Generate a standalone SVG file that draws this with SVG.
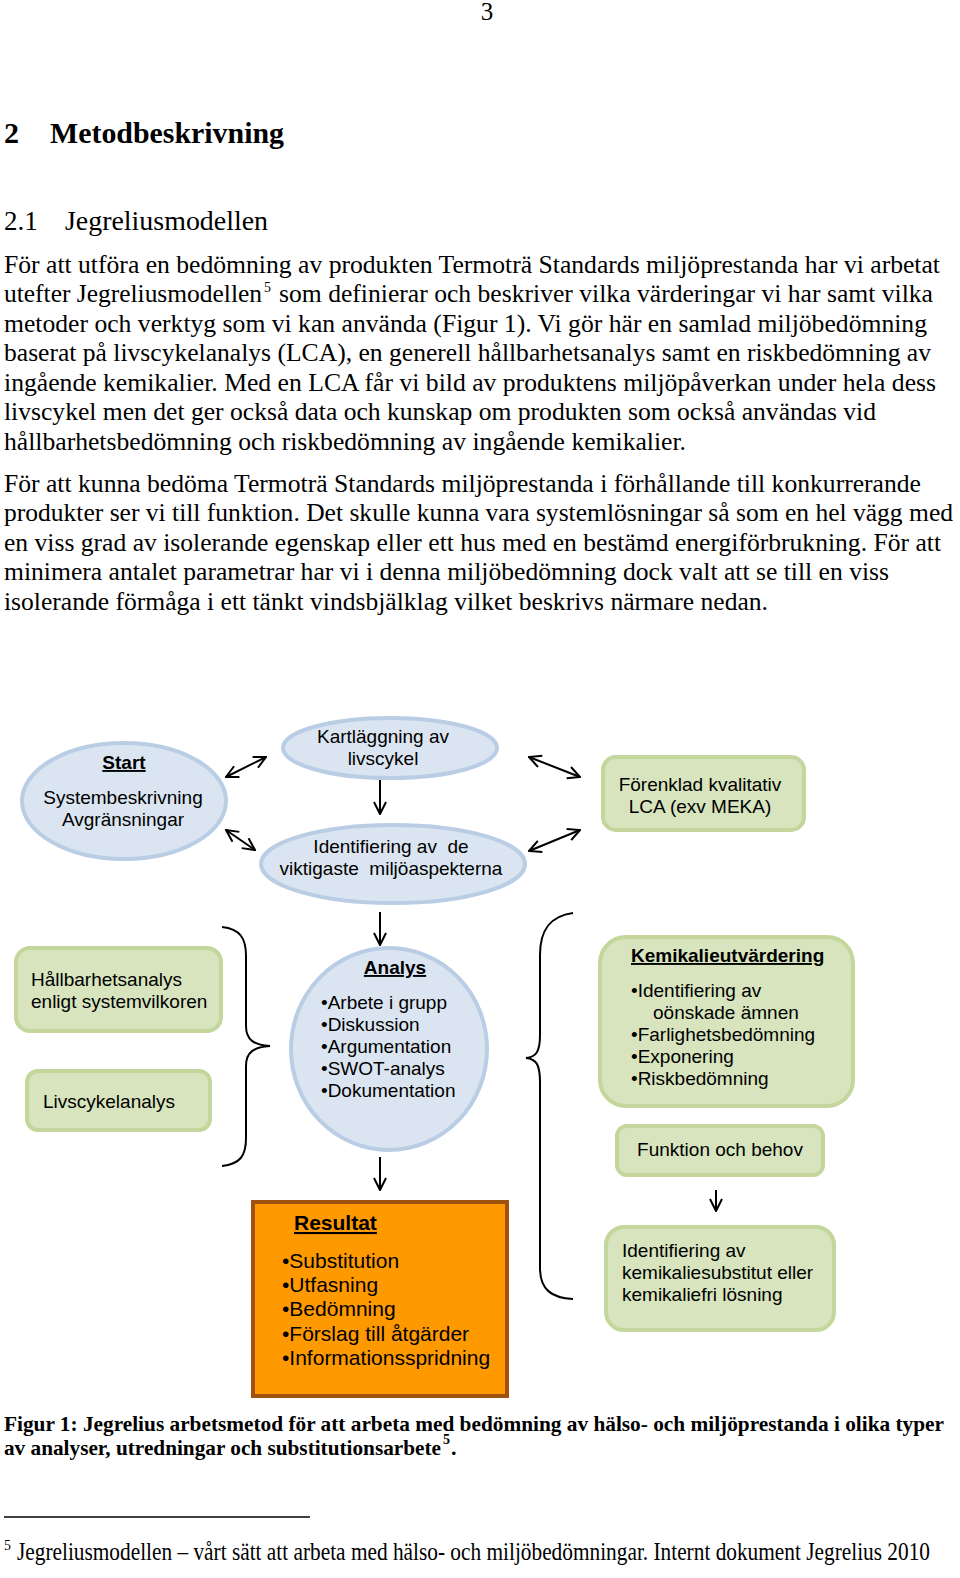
<svg xmlns="http://www.w3.org/2000/svg" width="960" height="1578" viewBox="0 0 960 1578">
<style>
.body{font-family:"Liberation Serif","Times New Roman",serif;font-size:25px;fill:#000}
.sup{font-family:"Liberation Serif","Times New Roman",serif;font-size:14px;fill:#000}
.cap{font-family:"Liberation Serif","Times New Roman",serif;font-size:22px;font-weight:bold;fill:#000}
.d{font-family:"Liberation Sans",Arial,sans-serif;font-size:19px;fill:#000}
.r{font-family:"Liberation Sans",Arial,sans-serif;font-size:21px;fill:#000}
.t{font-weight:bold;text-decoration:underline}
.blue{fill:#dbe5f1;stroke:#b9cde5;stroke-width:4}
.green{fill:#d7e4bd;stroke:#c3d69b;stroke-width:4}
.orange{fill:#ff9900;stroke:#a0520f;stroke-width:4}
.conn{fill:none;stroke:#000;stroke-width:2}
.brace{fill:none;stroke:#000;stroke-width:2}
</style>
<defs>
<marker id="ah" viewBox="0 0 14 14" markerWidth="14" markerHeight="14" refX="13" refY="7" orient="auto-start-reverse" markerUnits="userSpaceOnUse">
<path d="M1,1 L13,7 L1,13" fill="none" stroke="#000" stroke-width="2"/>
</marker>
</defs>
<rect width="960" height="1578" fill="#fff"/>

<g id="page-text">
<text class="body" x="487" y="20" text-anchor="middle" font-size="24">3</text>
<text x="4" y="143" font-family="Liberation Serif,serif" font-size="30" font-weight="bold">2</text>
<text x="50" y="143" font-family="Liberation Serif,serif" font-size="30" font-weight="bold" textLength="234" lengthAdjust="spacingAndGlyphs">Metodbeskrivning</text>
<text x="4" y="230" font-family="Liberation Serif,serif" font-size="27">2.1</text>
<text x="65" y="230" font-family="Liberation Serif,serif" font-size="27" textLength="203" lengthAdjust="spacingAndGlyphs">Jegreliusmodellen</text>

<text class="body" x="4" y="273" textLength="936" lengthAdjust="spacingAndGlyphs">För att utföra en bedömning av produkten Termoträ Standards miljöprestanda har vi arbetat</text>
<text class="body" x="4" y="302" textLength="258" lengthAdjust="spacingAndGlyphs">utefter Jegreliusmodellen</text>
<text class="sup" x="264" y="292">5</text>
<text class="body" x="279" y="302" textLength="654" lengthAdjust="spacingAndGlyphs">som definierar och beskriver vilka värderingar vi har samt vilka</text>
<text class="body" x="4" y="332" textLength="923" lengthAdjust="spacingAndGlyphs">metoder och verktyg som vi kan använda (Figur 1). Vi gör här en samlad miljöbedömning</text>
<text class="body" x="4" y="361" textLength="927" lengthAdjust="spacingAndGlyphs">baserat på livscykelanalys (LCA), en generell hållbarhetsanalys samt en riskbedömning av</text>
<text class="body" x="4" y="391" textLength="932" lengthAdjust="spacingAndGlyphs">ingående kemikalier. Med en LCA får vi bild av produktens miljöpåverkan under hela dess</text>
<text class="body" x="4" y="420" textLength="872" lengthAdjust="spacingAndGlyphs">livscykel men det ger också data och kunskap om produkten som också användas vid</text>
<text class="body" x="4" y="450" textLength="682" lengthAdjust="spacingAndGlyphs">hållbarhetsbedömning och riskbedömning av ingående kemikalier.</text>

<text class="body" x="4" y="492" textLength="917" lengthAdjust="spacingAndGlyphs">För att kunna bedöma Termoträ Standards miljöprestanda i förhållande till konkurrerande</text>
<text class="body" x="4" y="521" textLength="949" lengthAdjust="spacingAndGlyphs">produkter ser vi till funktion. Det skulle kunna vara systemlösningar så som en hel vägg med</text>
<text class="body" x="4" y="551" textLength="937" lengthAdjust="spacingAndGlyphs">en viss grad av isolerande egenskap eller ett hus med en bestämd energiförbrukning. För att</text>
<text class="body" x="4" y="580" textLength="885" lengthAdjust="spacingAndGlyphs">minimera antalet parametrar har vi i denna miljöbedömning dock valt att se till en viss</text>
<text class="body" x="4" y="610" textLength="764" lengthAdjust="spacingAndGlyphs">isolerande förmåga i ett tänkt vindsbjälklag vilket beskrivs närmare nedan.</text>
</g>

<g id="connectors">
<line class="conn" x1="226" y1="777" x2="266" y2="757" marker-start="url(#ah)" marker-end="url(#ah)"/>
<line class="conn" x1="226" y1="830" x2="255" y2="850" marker-start="url(#ah)" marker-end="url(#ah)"/>
<line class="conn" x1="529" y1="757" x2="580" y2="777" marker-start="url(#ah)" marker-end="url(#ah)"/>
<line class="conn" x1="529" y1="851" x2="580" y2="830" marker-start="url(#ah)" marker-end="url(#ah)"/>
<line class="conn" x1="380" y1="780" x2="380" y2="814" marker-end="url(#ah)"/>
<line class="conn" x1="380" y1="912" x2="380" y2="945" marker-end="url(#ah)"/>
<line class="conn" x1="380" y1="1157" x2="380" y2="1190" marker-end="url(#ah)"/>
<line class="conn" x1="716" y1="1190" x2="716" y2="1211" marker-end="url(#ah)"/>
<path class="brace" d="M222,927 C240,929 246,938 246,956 L246,1026 C246,1040 254,1045 270,1046 C254,1047 246,1052 246,1066 L246,1138 C246,1156 240,1164 222,1166"/>
<path class="brace" d="M573,913 C550,916 540,930 540,955 L540,1035 C540,1052 536,1057 526,1058 C536,1059 540,1064 540,1082 L540,1268 C540,1290 552,1298 573,1299"/>
</g>

<g id="start">
<ellipse class="blue" cx="124" cy="801" rx="102" ry="58"/>
<text class="d t" x="124" y="769" text-anchor="middle">Start</text>
<text class="d" x="123" y="804" text-anchor="middle">Systembeskrivning</text>
<text class="d" x="123" y="826" text-anchor="middle">Avgränsningar</text>
</g>
<g id="kartlaggning">
<ellipse class="blue" cx="390" cy="748" rx="107" ry="30"/>
<text class="d" x="383" y="743" text-anchor="middle">Kartläggning av</text>
<text class="d" x="383" y="765" text-anchor="middle">livscykel</text>
</g>
<g id="identifiering-aspekter">
<ellipse class="blue" cx="393" cy="864" rx="132" ry="39"/>
<text class="d" x="391" y="853" text-anchor="middle" xml:space="preserve">Identifiering av  de</text>
<text class="d" x="391" y="875" text-anchor="middle" xml:space="preserve">viktigaste  miljöaspekterna</text>
</g>
<g id="forenklad">
<rect class="green" x="603" y="757" width="201" height="73" rx="13"/>
<text class="d" x="700" y="791" text-anchor="middle">Förenklad kvalitativ</text>
<text class="d" x="700" y="813" text-anchor="middle">LCA (exv MEKA)</text>
</g>
<g id="hallbarhet">
<rect class="green" x="16" y="948" width="205" height="83" rx="14"/>
<text class="d" x="31" y="986">Hållbarhetsanalys</text>
<text class="d" x="31" y="1008">enligt systemvilkoren</text>
</g>
<g id="livscykelanalys">
<rect class="green" x="27" y="1071" width="183" height="59" rx="11"/>
<text class="d" x="43" y="1108">Livscykelanalys</text>
</g>
<g id="analys">
<ellipse class="blue" cx="389" cy="1049" rx="98" ry="101"/>
<text class="d t" x="395" y="974" text-anchor="middle">Analys</text>
<text class="d" x="321" y="1009">•Arbete i grupp</text>
<text class="d" x="321" y="1031">•Diskussion</text>
<text class="d" x="321" y="1053">•Argumentation</text>
<text class="d" x="321" y="1075">•SWOT-analys</text>
<text class="d" x="321" y="1097">•Dokumentation</text>
</g>
<g id="kemikalie">
<rect class="green" x="600" y="937" width="253" height="169" rx="26"/>
<text class="d t" x="631" y="962">Kemikalieutvärdering</text>
<text class="d" x="631" y="997">•Identifiering av</text>
<text class="d" x="653" y="1019">oönskade ämnen</text>
<text class="d" x="631" y="1041">•Farlighetsbedömning</text>
<text class="d" x="631" y="1063">•Exponering</text>
<text class="d" x="631" y="1085">•Riskbedömning</text>
</g>
<g id="funktion">
<rect class="green" x="617" y="1126" width="206" height="49" rx="10"/>
<text class="d" x="720" y="1156" text-anchor="middle">Funktion och behov</text>
</g>
<g id="substitut">
<rect class="green" x="606" y="1227" width="228" height="103" rx="18"/>
<text class="d" x="622" y="1257">Identifiering av</text>
<text class="d" x="622" y="1279">kemikaliesubstitut eller</text>
<text class="d" x="622" y="1301">kemikaliefri lösning</text>
</g>
<g id="resultat">
<rect class="orange" x="253" y="1202" width="254" height="194"/>
<text class="r t" x="294" y="1230">Resultat</text>
<text class="r" x="282" y="1268">•Substitution</text>
<text class="r" x="282" y="1292">•Utfasning</text>
<text class="r" x="282" y="1316">•Bedömning</text>
<text class="r" x="282" y="1341">•Förslag till åtgärder</text>
<text class="r" x="282" y="1365">•Informationsspridning</text>
</g>

<g id="caption">
<text class="cap" x="4" y="1431" textLength="940" lengthAdjust="spacingAndGlyphs">Figur 1: Jegrelius arbetsmetod för att arbeta med bedömning av hälso- och miljöprestanda i olika typer</text>
<text class="cap" x="4" y="1455" textLength="437" lengthAdjust="spacingAndGlyphs">av analyser, utredningar och substitutionsarbete</text>
<text class="sup" x="443" y="1444" font-weight="bold" font-size="12">5</text>
<text class="cap" x="451" y="1455">.</text>
<line x1="4" y1="1517" x2="310" y2="1517" stroke="#000" stroke-width="1.5"/>
<text class="sup" x="4" y="1550" font-size="13">5</text>
<text class="body" x="17" y="1560" font-size="21" textLength="913" lengthAdjust="spacingAndGlyphs">Jegreliusmodellen – vårt sätt att arbeta med hälso- och miljöbedömningar. Internt dokument Jegrelius 2010</text>
</g>
</svg>
